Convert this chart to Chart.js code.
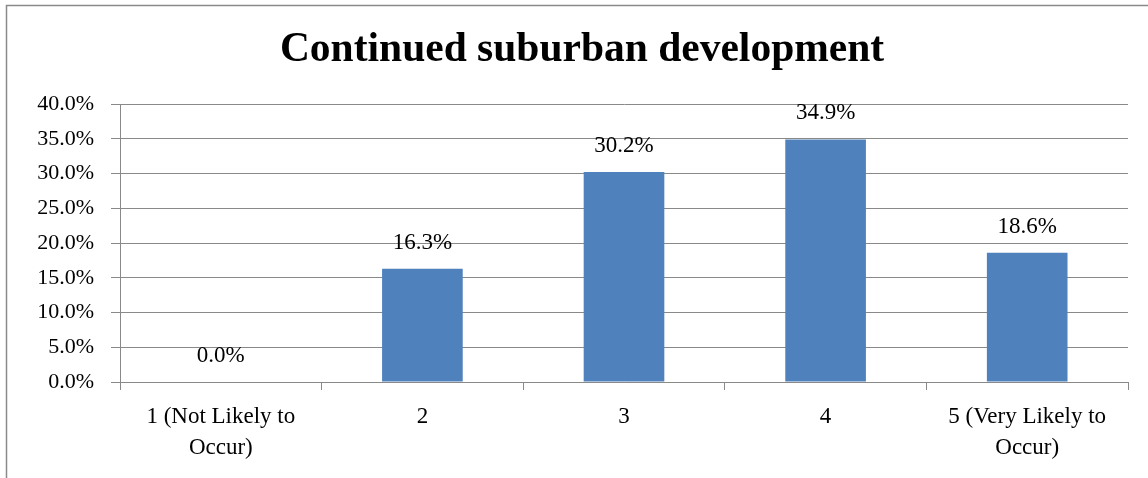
<!DOCTYPE html>
<html>
<head>
<meta charset="utf-8">
<script src="https://cdn.jsdelivr.net/npm/chart.js@4/dist/chart.umd.min.js"></script>
<style>
    html, body { margin: 0; padding: 0; background: #fff; }
    #wrap { width: 1148px; height: 478px; position: relative; }
</style>
</head>
<body>
<div id="wrap"><canvas id="chart"></canvas></div>
<script>
// Chart data
const categories = [['1 (Not Likely to', 'Occur)'], '2', '3', '4', ['5 (Very Likely to', 'Occur)']]
const percentages = [0.0, 16.3, 30.2, 34.9, 18.6]
const yTicks = [0, 5, 10, 15, 20, 25, 30, 35, 40]

const serif = '"Liberation Serif", "DejaVu Serif", serif'
const gridColor = '#898989'

// Outer frame of the chart box (top and left edges visible)
const framePlugin = {
    id: 'frame',
    beforeDraw(chart) {
        const ctx = chart.ctx
        ctx.save()
        ctx.strokeStyle = '#8a8a8a'
        ctx.lineWidth = 1.5
        ctx.beginPath()
        ctx.moveTo(6.5, chart.height)
        ctx.lineTo(6.5, 5.5)
        ctx.lineTo(chart.width, 5.5)
        ctx.stroke()
        ctx.restore()
    }
}

// Value labels above each bar
const valueLabels = {
    id: 'valueLabels',
    afterDatasetsDraw(chart) {
        const ctx = chart.ctx
        const meta = chart.getDatasetMeta(0)
        ctx.save()
        ctx.font = '23px ' + serif
        ctx.fillStyle = '#000'
        ctx.textAlign = 'center'
        ctx.textBaseline = 'middle'
        meta.data.forEach((bar, i) => {
            ctx.fillText(percentages[i].toFixed(1) + '%', bar.x, bar.y - 26)
        })
        ctx.restore()
    }
}

const ctx = document.getElementById('chart').getContext('2d')
new Chart(ctx, {
    type: 'bar',
    data: {
        labels: categories,
        datasets: [{
            data: percentages,
            backgroundColor: '#4f81bd',
            borderWidth: 0,
            categoryPercentage: 1.0,
            barPercentage: 0.4
        }]
    },
    options: {
        responsive: true,
        maintainAspectRatio: false,
        animation: false,
        layout: {
            padding: { left: 36, right: 20, top: 10, bottom: 0 }
        },
        plugins: {
            legend: { display: false },
            tooltip: { enabled: false },
            title: {
                display: true,
                text: 'Continued suburban development',
                color: '#000',
                font: { family: serif, size: 41.5, weight: 'bold', lineHeight: 1.2 },
                padding: { top: 15, bottom: 29.2 }
            }
        },
        scales: {
            y: {
                min: 0,
                max: 40,
                afterBuildTicks: (axis) => {
                    axis.ticks = yTicks.map(v => ({ value: v }))
                },
                afterFit: (axis) => { axis.width = 84 },
                ticks: {
                    color: '#000',
                    font: { family: serif, size: 22 },
                    padding: 17,
                    callback: (value) => value.toFixed(1) + '%'
                },
                grid: {
                    color: gridColor,
                    lineWidth: 1,
                    tickLength: 9
                },
                border: { color: gridColor, width: 1 }
            },
            x: {
                afterFit: (axis) => { axis.height = 96 },
                ticks: {
                    color: '#000',
                    font: { family: serif, size: 23, lineHeight: 1.35 },
                    padding: 11,
                    maxRotation: 0
                },
                grid: {
                    offset: true,
                    drawOnChartArea: false,
                    color: gridColor,
                    tickLength: 8
                },
                border: { color: gridColor, width: 1 }
            }
        }
    },
    plugins: [framePlugin, valueLabels]
})
</script>
</body>
</html>
